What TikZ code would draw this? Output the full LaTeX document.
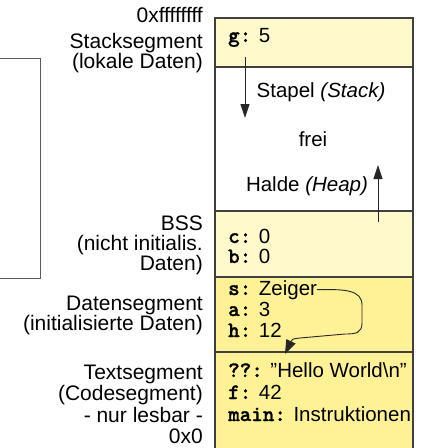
\documentclass[tikz,border=0pt]{standalone}
\usepackage{fontspec}
\setmainfont{Liberation Sans}
\newfontfamily\codefont{lmmonolt10-bold.otf}[FakeBold=1.2]
\usetikzlibrary{arrows.meta}
\definecolor{palebg}{RGB}{255,249,204}
\definecolor{databg}{RGB}{255,242,150}
\definecolor{linegray}{RGB}{64,64,64}
\definecolor{brgray}{RGB}{90,90,90}
\newcommand\codetxt[1]{{\fontsize{22}{21}\codefont #1}}
\begin{document}
\begin{tikzpicture}[x=1pt,y=-1pt,
  font=\fontsize{20.5}{21}\selectfont,
  lab/.style={anchor=base east, inner sep=0pt, font=\fontsize{21}{21}\selectfont},
  var/.style={anchor=base west, inner sep=0pt},
  ctr/.style={anchor=base, inner sep=0pt},
  segbox/.style={draw=linegray, line width=1.2pt, anchor=north west, minimum width=198pt, inner sep=0pt, outer sep=0pt},
  growarrow/.style={draw=black!85, line width=0.9pt, -{Triangle[length=14pt,width=9pt]}},
  ptrarrow/.style={draw=black!85, line width=0.9pt, -{Triangle[length=14pt,width=10pt]}},
  bracket/.style={draw=brgray, line width=1pt}]
\useasboundingbox (0,0) rectangle (421,448);

% segments
\node[segbox, fill=palebg, minimum height=49pt] (stackseg) at (215,18) {};
\node[segbox, fill=white, minimum height=144pt] (freeseg) at (215,67) {};
\node[segbox, fill=palebg, minimum height=66pt] (bssseg) at (215,211) {};
\node[segbox, fill=databg, minimum height=75pt] (dataseg) at (215,277) {};
\node[segbox, fill=databg, minimum height=110pt] (textseg) at (215,352) {};

% bracket
\coordinate (brtop) at (0,58);
\coordinate (brbot) at (0,278);
\draw[bracket] (brtop) -- (40,58) -- (40,278) -- (brbot);

% left labels
\node[lab] (addrtop) at (203,22) {0xffffffff};
\node[lab] (stacklab1) at (203,48) {Stacksegment};
\node[lab] (stacklab2) at (203,68) {(lokale Daten)};
\node[lab] (bsslab1) at (203,230) {BSS};
\node[lab] (bsslab2) at (203,250) {(nicht initialis.};
\node[lab] (bsslab3) at (203,270) {Daten)};
\node[lab] (datalab1) at (203,310) {Datensegment};
\node[lab] (datalab2) at (203,330) {(initialisierte Daten)};
\node[lab] (textlab1) at (203,379) {Textsegment};
\node[lab] (textlab2) at (203,400) {(Codesegment)};
\node[lab] (textlab3) at (203,422) {- nur lesbar -};
\node[lab] (addrbot) at (203,443) {0x0};

% contents
\node[var] (vg) at (228,42) {\codetxt{g:} 5};
\node[ctr] (stapel) at (321,97) {Stapel \textit{(Stack)}};
\node[ctr] (frei) at (313,146) {frei};
\node[ctr] (halde) at (307,191) {Halde \textit{(Heap)}};
\node[var] (vc) at (228,243) {\codetxt{c:} 0};
\node[var] (vb) at (228,263) {\codetxt{b:} 0};
\node[var] (vs) at (228,295) {\codetxt{s:} Zeiger};
\node[var] (va) at (228,316) {\codetxt{a:} 3};
\node[var] (vh) at (228,337) {\codetxt{h:} 12};
\node[var] (vq) at (228,377) {\codetxt{??:} "Hello World\textbackslash n"};
\node[var] (vf) at (228,399) {\codetxt{f:} 42};
\node[var] (vm) at (228,421) {\codetxt{main:} Instruktionen};

% growth arrows
\coordinate (stackfrom) at (245,57);
\coordinate (stackto) at (245,118);
\draw[growarrow] (stackfrom) -- (stackto);
\coordinate (heapfrom) at (378,222);
\coordinate (heapto) at (378,165);
\draw[growarrow] (heapfrom) -- (heapto);

% pointer
\coordinate (ptrtip) at (285,354);
\draw[ptrarrow] (vs.east) .. controls (345,289) and (362,290) .. (362,305)
  -- (362,323) .. controls (362,333) and (356,334) .. (345,334)
  -- (300,338) .. controls (292,339) .. (ptrtip);
\end{tikzpicture}
\end{document}
